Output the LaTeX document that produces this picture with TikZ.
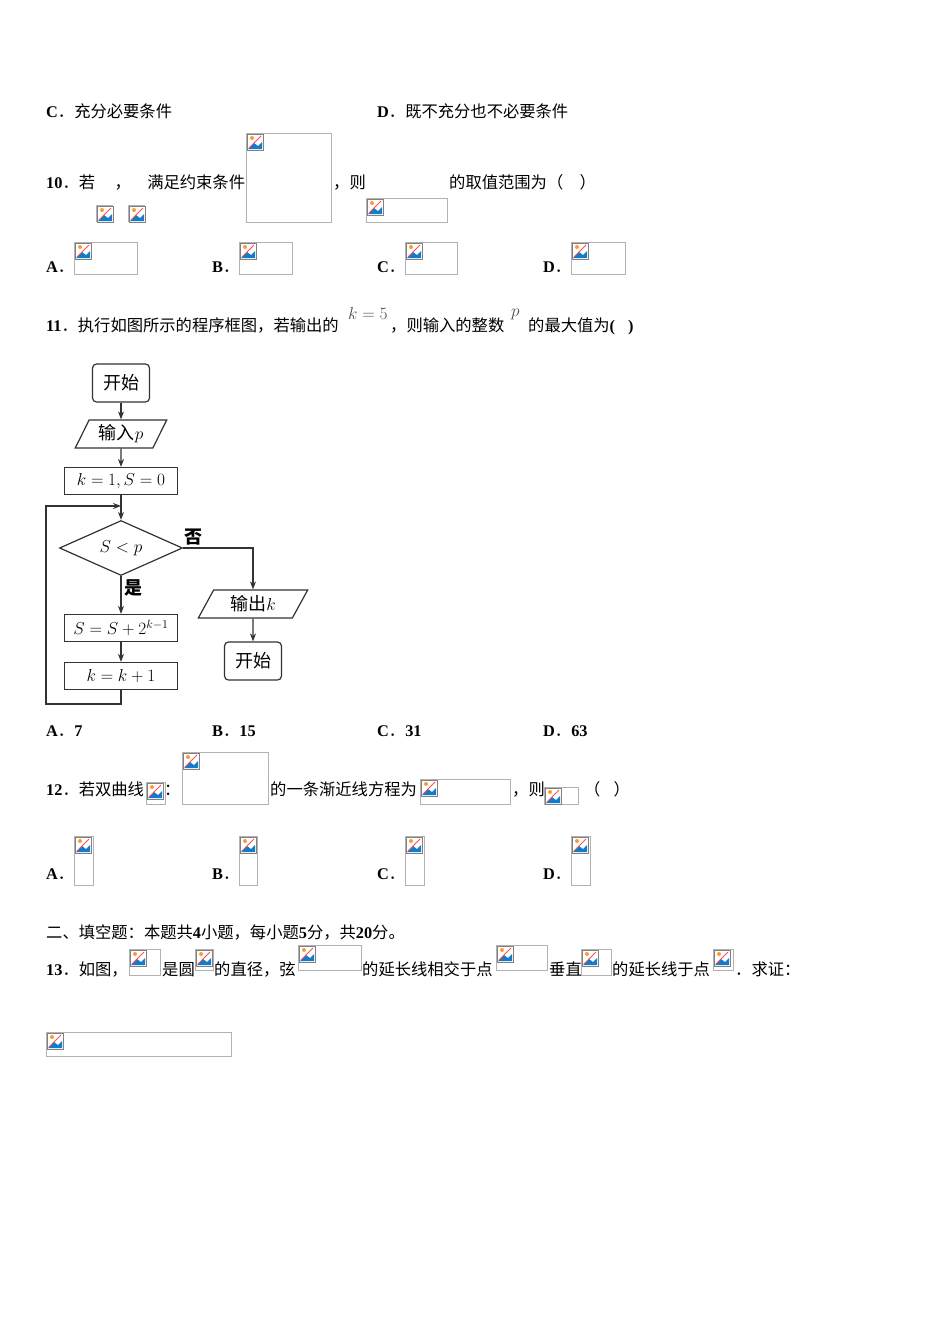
\documentclass[tikz,border=0pt]{standalone}
\usepackage{fontspec}
\setmainfont{Liberation Serif}
\newfontfamily\cjk{Noto Sans CJK SC}
\usetikzlibrary{shapes.geometric,arrows.meta}
\newcommand\lb[1]{{\rmfamily\bfseries #1}}
\tikzset{
  txt/.style={anchor=base west,inner sep=0pt,font=\fontsize{16.3}{18}\selectfont\cjk},
  fc/.style={draw=black!80,line width=1.2pt,inner sep=2pt,font=\fontsize{18}{22}\selectfont\cjk},
  rbox/.style={fc,rounded corners=4pt,minimum width=57pt,minimum height=38pt},
  pbox/.style={fc,trapezium,trapezium left angle=65,trapezium right angle=115,minimum height=28pt,trapezium stretches=true},
  sbox/.style={fc,minimum width=113pt,minimum height=27pt},
  dbox/.style={fc,diamond,aspect=2.2,minimum width=123pt,minimum height=55pt,inner sep=0pt},
  arr/.style={draw=black!80,line width=1.2pt,-{Stealth[length=8pt,width=6pt]}},
  lab/.style={inner sep=0pt,font=\fontsize{18}{20}\selectfont\cjk\bfseries},
}
\newcommand\phbox[4]{%
  \draw[gray!60,line width=0.6pt] (#1,#2) rectangle (#3,#4);
  \begin{scope}[shift={(#1,#2)}]
    \draw[gray,fill=white,line width=0.5pt] (1,1) rectangle (17,17);
    \fill[cyan!60!blue] (2,16) -- (8,10) -- (12,13) -- (16,9) -- (16,16) -- cycle;
    \fill[orange!80] (6,5) circle (2);
    \draw[red!70,line width=0.8pt] (3,15) -- (15,3);
  \end{scope}}
\begin{document}
\begin{tikzpicture}[x=1pt,y=-1pt]
\useasboundingbox (0,0) rectangle (950,1344);
% top line
\node[txt] at (46,117) {\lb{C}．充分必要条件};
\node[txt] at (377,117) {\lb{D}．既不充分也不必要条件};
% Q10
\node[txt] at (46,188) {\lb{10}．若\hspace{1.2em}，\hspace{1em}满足约束条件};
\phbox{246}{133}{331}{222}
\node[txt] at (333,188) {，则};
\node[txt] at (449,188) {的取值范围为（\hspace{1em}）};
\phbox{96}{205}{112}{221}
\phbox{128}{205}{144}{221}
\phbox{366}{198}{447}{222}
\node[txt] at (46,272) {\lb{A}．};
\phbox{74}{242}{137}{274}
\node[txt] at (212,272) {\lb{B}．};
\phbox{239}{242}{292}{274}
\node[txt] at (377,272) {\lb{C}．};
\phbox{405}{242}{457}{274}
\node[txt] at (543,272) {\lb{D}．};
\phbox{571}{242}{625}{274}
% Q11
\node[txt] at (46,331) {\lb{11}．执行如图所示的程序框图，若输出的};
\node[anchor=base west,inner sep=0pt,font=\fontsize{17}{18}\selectfont,text=black!70] at (348,319) {$k=5$};
\node[txt] at (390,331) {，则输入的整数};
\node[anchor=base west,inner sep=0pt,font=\fontsize{17}{18}\selectfont,text=black!70] at (511,316) {$p$};
\node[txt] at (528,331) {的最大值为\lb{(\hspace{0.8em})}};
% flowchart
\node[rbox] (st) at (121,383) {开始};
\node[pbox,minimum width=92pt] (in) at (121,434) {输入$p$};
\node[sbox] (init) at (121,481) {$k=1,S=0$};
\coordinate (mg) at (121,506);
\node[dbox] (cond) at (121,548) {$S<p$};
\node[sbox] (upd) at (121,628) {$S=S+2^{k-1}$};
\node[sbox] (inc) at (121,676) {$k=k+1$};
\node[pbox,minimum width=110pt] (out) at (253,604) {输出$k$};
\node[rbox] (en) at (253,661) {开始};
\coordinate (rc) at (253,548);
\coordinate (lbt) at (121,704);
\coordinate (ll) at (46,704);
\coordinate (lt) at (46,506);
\draw[arr] (st) -- (in);
\draw[arr] (in) -- (init);
\draw[arr] (init) -- (cond);
\draw[arr] (cond) -- node[lab,right=3pt,pos=0.3] {是} (upd);
\draw[arr] (upd) -- (inc);
\draw[arr] (cond.east) -- (rc) -- (out);
\node[lab] at (193,537) {否};
\draw[arr] (out) -- (en);
\draw[arr] (inc.south) -- (lbt) -- (ll) -- (lt) -- (mg);
% answers
\node[txt] at (46,736) {\lb{A}．\lb{7}};
\node[txt] at (212,736) {\lb{B}．\lb{15}};
\node[txt] at (377,736) {\lb{C}．\lb{31}};
\node[txt] at (543,736) {\lb{D}．\lb{63}};
% Q12
\node[txt] at (46,795) {\lb{12}．若双曲线};
\phbox{146}{782}{165}{804}
\node[txt] at (164,795) {：};
\phbox{182}{752}{268}{804}
\node[txt] at (270,795) {的一条渐近线方程为};
\phbox{420}{779}{510}{804}
\node[txt] at (512,795) {，则};
\phbox{544}{787}{578}{804}
\node[txt] at (584,795) {（\hspace{0.8em}）};
\node[txt] at (46,879) {\lb{A}．};
\phbox{74}{836}{93}{885}
\node[txt] at (212,879) {\lb{B}．};
\phbox{239}{836}{257}{885}
\node[txt] at (377,879) {\lb{C}．};
\phbox{405}{836}{424}{885}
\node[txt] at (543,879) {\lb{D}．};
\phbox{571}{836}{590}{885}
% section
\node[txt] at (46,938) {二、填空题：本题共\lb{4}小题，每小题\lb{5}分，共\lb{20}分。};
% Q13
\node[txt] at (46,975) {\lb{13}．如图，};
\phbox{129}{949}{160}{975}
\node[txt] at (162,975) {是圆};
\phbox{195}{949}{213}{970}
\node[txt] at (214,975) {的直径，弦};
\phbox{298}{945}{361}{970}
\node[txt] at (362,975) {的延长线相交于点};
\phbox{496}{945}{547}{970}
\node[txt] at (549,975) {垂直};
\phbox{581}{949}{611}{975}
\node[txt] at (612,975) {的延长线于点};
\phbox{713}{949}{733}{970}
\node[txt] at (735,975) {．求证：};
\phbox{46}{1032}{231}{1056}
\end{tikzpicture}
\end{document}
